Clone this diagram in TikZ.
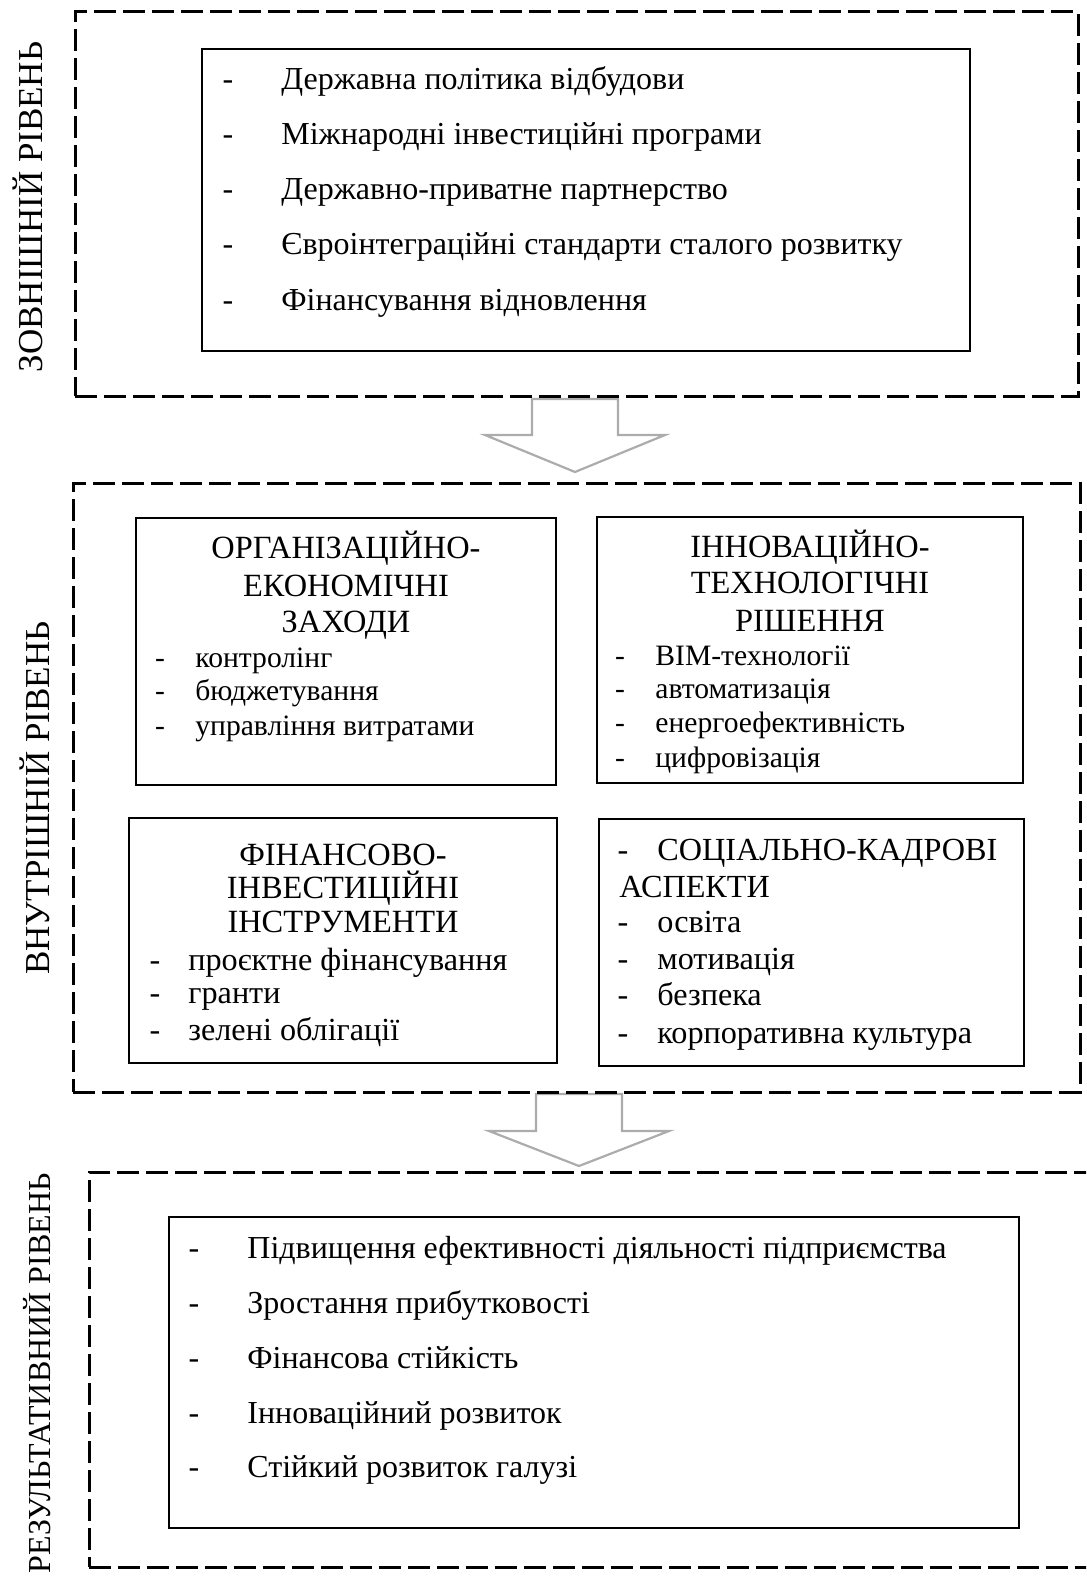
\documentclass[tikz,border=0pt]{standalone}
\usepackage{fontspec}
\setmainfont{Liberation Serif}
\usetikzlibrary{fit}
\begin{document}
\begin{tikzpicture}[x=0.5pt,y=-0.5pt,
  dashbox/.style={draw, line width=1.5pt, dash pattern=on 11pt off 3.5pt},
  box/.style={draw, line width=0.75pt, inner sep=0pt},
  blockarrow/.style={draw=gray!65, line width=1.1pt, fill=white, line join=miter},
  bigtxt/.style={inner sep=0pt, font=\fontsize{16pt}{19pt}\selectfont},
  headtxt/.style={inner sep=0pt, font=\fontsize{16.2pt}{19pt}\selectfont},
  toptxt/.style={inner sep=0pt, font=\fontsize{14.8pt}{18pt}\selectfont},
  bottxt/.style={inner sep=0pt, font=\fontsize{16.1pt}{19pt}\selectfont},
  lvl/.style={inner sep=0pt, rotate=90, font=\fontsize{17.5pt}{21pt}\selectfont}
]
\useasboundingbox (0,0) rectangle (1086,1578);
\clip (0,0) rectangle (1086,1578);

% block arrows
\draw[blockarrow] (532,399) -- (618,399) -- (618,435) -- (665,435) -- (575,472) -- (485,435) -- (532,435) -- cycle;
\draw[blockarrow] (536,1094) -- (622,1094) -- (622,1131) -- (669,1131) -- (579,1166) -- (489,1131) -- (536,1131) -- cycle;

% level frames
\node[dashbox, inner sep=0pt, fit={(75,12) (1078,396)}] (ext) {};
\node[dashbox, inner sep=0pt, fit={(73,483) (1080,1092)}] (int) {};
\node[dashbox, inner sep=0pt, fit={(89,1172) (1120,1567)}] (res) {};

% level labels
\node[lvl, anchor=base] (lext) at (42,207) {ЗОВНІШНІЙ РІВЕНЬ};
\node[lvl, anchor=base] (lint) at (49,798) {ВНУТРІШНІЙ РІВЕНЬ};
\node[lvl, anchor=base east, font=\fontsize{16pt}{19pt}\selectfont] (lres) at (50,1173) {РЕЗУЛЬТАТИВНИЙ РІВЕНЬ};

% external box
\node[box, fit={(202,49) (970,351)}] (b1) {};
\foreach \yy/\tt [count=\i] in {90/Державна політика відбудови,145/Міжнародні інвестиційні програми,200/Державно-приватне партнерство,255/Євроінтеграційні стандарти сталого розвитку,310/Фінансування відновлення}{
  \node[bigtxt, anchor=base] (b1d\i) at (228,\yy) {-};
  \node[bigtxt, anchor=base west] (b1t\i) at (281,\yy) {\tt};
}

% internal boxes
\node[box, fit={(136,518) (556,785)}] (oe) {};
\node[box, fit={(597,517) (1023,783)}] (it) {};
\node[box, fit={(129,818) (557,1063)}] (fi) {};
\node[box, fit={(599,819) (1024,1066)}] (sk) {};

% OE
\node[headtxt, anchor=base] (oeh1) at (346,558) {ОРГАНІЗАЦІЙНО-};
\node[headtxt, anchor=base] (oeh2) at (346,596) {ЕКОНОМІЧНІ};
\node[headtxt, anchor=base] (oeh3) at (346,632) {ЗАХОДИ};
\foreach \yy/\tt [count=\i] in {667/контролінг,700/бюджетування,735/управління витратами}{
  \node[toptxt, anchor=base] (oed\i) at (160,\yy) {-};
  \node[toptxt, anchor=base west] (oet\i) at (195,\yy) {\tt};
}

% IT
\node[headtxt, anchor=base] (ith1) at (810,557) {ІННОВАЦІЙНО-};
\node[headtxt, anchor=base] (ith2) at (810,593) {ТЕХНОЛОГІЧНІ};
\node[headtxt, anchor=base] (ith3) at (810,631) {РІШЕННЯ};
\foreach \yy/\tt [count=\i] in {665/BIM-технології,698/автоматизація,732/енергоефективність,767/цифровізація}{
  \node[toptxt, anchor=base] (itd\i) at (620,\yy) {-};
  \node[toptxt, anchor=base west] (itt\i) at (655,\yy) {\tt};
}

% FI
\node[headtxt, anchor=base] (fih1) at (343,865) {ФІНАНСОВО-};
\node[headtxt, anchor=base] (fih2) at (343,898) {ІНВЕСТИЦІЙНІ};
\node[headtxt, anchor=base] (fih3) at (343,932) {ІНСТРУМЕНТИ};
\foreach \yy/\tt [count=\i] in {970/проєктне фінансування,1003/гранти,1040/зелені облігації}{
  \node[bottxt, anchor=base] (fid\i) at (155,\yy) {-};
  \node[bottxt, anchor=base west] (fit\i) at (188,\yy) {\tt};
}

% SK
\node[bottxt, anchor=base] (skd0) at (623,860) {-};
\node[bottxt, anchor=base west] (skh1) at (657,860) {СОЦІАЛЬНО-КАДРОВІ};
\node[bottxt, anchor=base west] (skh2) at (619,897) {АСПЕКТИ};
\foreach \yy/\tt [count=\i] in {932/освіта,969/мотивація,1005/безпека,1043/корпоративна культура}{
  \node[bottxt, anchor=base] (skd\i) at (623,\yy) {-};
  \node[bottxt, anchor=base west] (skt\i) at (657,\yy) {\tt};
}

% result box
\node[box, fit={(169,1217) (1019,1528)}] (b3) {};
\foreach \yy/\tt [count=\i] in {1258/Підвищення ефективності діяльності підприємства,1313/Зростання прибутковості,1368/Фінансова стійкість,1423/Інноваційний розвиток,1477/Стійкий розвиток галузі}{
  \node[bigtxt, anchor=base] (b3d\i) at (194,\yy) {-};
  \node[bigtxt, anchor=base west] (b3t\i) at (247,\yy) {\tt};
}
\end{tikzpicture}
\end{document}
